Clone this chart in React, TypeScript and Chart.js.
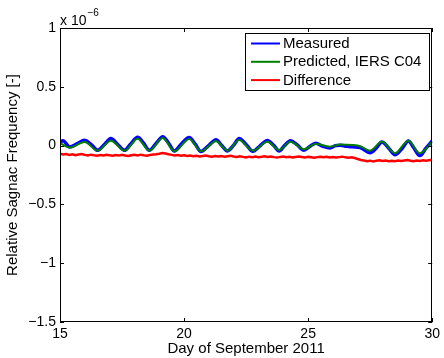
import React, { useEffect, useRef } from "react";
import { Chart, registerables } from "chart.js";

Chart.register(...registerables);

// ---- data (values in units of 1e-6) ----
const xTicks = [15, 20, 25, 30];
const yTicks = [-1.5, -1, -0.5, 0, 0.5, 1];
const seriesLabels = ["Measured", "Predicted, IERS C04", "Difference"];
const seriesColors = ["#0000ff", "#008000", "#ff0000"];

const measuredDays = [
  15.0, 15.12, 15.39, 15.7, 15.99, 16.25, 16.52, 16.8, 17.05, 17.3, 17.6, 17.85,
  18.13, 18.37, 18.6, 18.87, 19.14, 19.38, 19.61, 19.9, 20.21, 20.45, 20.68, 21.0,
  21.29, 21.5, 21.75, 22.0, 22.22, 22.5, 22.77, 23.05, 23.36, 23.6, 23.83, 24.05,
  24.29, 24.55, 24.83, 25.05, 25.3, 25.6, 25.88, 26.1, 26.3, 26.55, 26.8, 27.1,
  27.5, 27.75, 27.97, 28.25, 28.5, 28.8, 29.04, 29.25, 29.5, 29.75, 30.0,
];
const measuredValues = [
  0.03, 0.042, -0.012, 0.018, 0.046, 0.01, -0.04, 0.012, 0.06, 0.016, -0.04, 0.014,
  0.07, 0.02, -0.04, 0.018, 0.076, 0.02, -0.046, 0.016, 0.068, 0.012, -0.05, 0.002,
  0.05, 0.006, -0.045, 0.004, 0.06, 0.01, -0.048, -0.004, 0.043, 0.004, -0.045, 0.0,
  0.042, 0.008, -0.04, -0.01, 0.02, -0.006, -0.02, 0.0, 0.004, -0.006, -0.01, -0.016,
  -0.06, -0.02, 0.03, -0.022, -0.078, -0.02, 0.04, -0.016, -0.085, -0.022, 0.04,
];

const predictedDays = [
  15.0, 15.39, 15.99, 16.52, 17.05, 17.6, 18.13, 18.6, 19.14, 19.61, 20.21, 20.68,
  21.29, 21.75, 22.22, 22.77, 23.36, 23.83, 24.29, 24.83, 25.3, 25.88, 26.3, 26.8,
  27.1, 27.5, 27.97, 28.5, 29.04, 29.5, 30.0,
];
const predictedValues = [
  0.022, -0.016, 0.03, -0.043, 0.042, -0.043, 0.059, -0.043, 0.065, -0.048, 0.057, -0.048,
  0.037, -0.043, 0.048, -0.043, 0.033, -0.037, 0.033, -0.031, 0.014, -0.009, 0.009, 0.005,
  -0.005, -0.043, 0.033, -0.065, 0.042, -0.065, 0.033,
];

const differenceDays = [
  15.0, 15.125, 15.25, 15.375, 15.5, 15.625, 15.75, 15.875,
  16.0, 16.125, 16.25, 16.375, 16.5, 16.625, 16.75, 16.875,
  17.0, 17.125, 17.25, 17.375, 17.5, 17.625, 17.75, 17.875,
  18.0, 18.125, 18.25, 18.375, 18.5, 18.625, 18.75, 18.875,
  19.0, 19.125, 19.25, 19.375, 19.5, 19.625, 19.75, 19.875,
  20.0, 20.125, 20.25, 20.375, 20.5, 20.625, 20.75, 20.875,
  21.0, 21.125, 21.25, 21.375, 21.5, 21.625, 21.75, 21.875,
  22.0, 22.125, 22.25, 22.375, 22.5, 22.625, 22.75, 22.875,
  23.0, 23.125, 23.25, 23.375, 23.5, 23.625, 23.75, 23.875,
  24.0, 24.125, 24.25, 24.375, 24.5, 24.625, 24.75, 24.875,
  25.0, 25.125, 25.25, 25.375, 25.5, 25.625, 25.75, 25.875,
  26.0, 26.125, 26.25, 26.375, 26.5, 26.625, 26.75, 26.875,
  27.0, 27.125, 27.25, 27.375, 27.5, 27.625, 27.75, 27.875,
  28.0, 28.125, 28.25, 28.375, 28.5, 28.625, 28.75, 28.875,
  29.0, 29.125, 29.25, 29.375, 29.5, 29.625, 29.75, 29.875,
  30.0,
];
const differenceValues = [
  -0.07, -0.076, -0.072, -0.079, -0.074, -0.081, -0.076, -0.072,
  -0.079, -0.083, -0.077, -0.082, -0.086, -0.08, -0.084, -0.078,
  -0.083, -0.087, -0.081, -0.085, -0.079, -0.084, -0.088, -0.082,
  -0.078, -0.083, -0.077, -0.082, -0.086, -0.08, -0.076, -0.073,
  -0.069, -0.064, -0.068, -0.074, -0.079, -0.084, -0.081, -0.087,
  -0.083, -0.089, -0.085, -0.09, -0.086, -0.092, -0.088, -0.084,
  -0.09, -0.094, -0.088, -0.093, -0.089, -0.095, -0.091, -0.087,
  -0.093, -0.097, -0.091, -0.096, -0.1, -0.094, -0.098, -0.093,
  -0.099, -0.095, -0.09, -0.096, -0.092, -0.098, -0.102, -0.096,
  -0.093, -0.099, -0.095, -0.1, -0.096, -0.092, -0.097, -0.101,
  -0.096, -0.1, -0.104, -0.098, -0.094, -0.099, -0.095, -0.101,
  -0.097, -0.102, -0.098, -0.094, -0.1, -0.104, -0.099, -0.106,
  -0.114, -0.122, -0.127, -0.132, -0.128, -0.134, -0.129, -0.125,
  -0.131, -0.127, -0.133, -0.128, -0.132, -0.126, -0.131, -0.127,
  -0.123, -0.129, -0.133, -0.127, -0.131, -0.125, -0.129, -0.124,
  -0.12,
];

const FONT = '"Liberation Sans", Arial, Helvetica, sans-serif';

const toPoints = (xs: number[], ys: number[]) => xs.map((x, i) => ({ x, y: ys[i] }));
const fmt = (v: number) => (v < 0 ? "\u2212" + String(-v) : String(v));

const framePlugin = {
  id: "matlabFrame",
  afterDraw(chart: any) {
    const { ctx, chartArea: a, scales } = chart;
    const xs = scales.x;
    const ys = scales.y;
    ctx.save();
    ctx.strokeStyle = "#000";
    ctx.lineWidth = 1;
    ctx.strokeRect(Math.round(a.left) + 0.5, Math.round(a.top) + 0.5, Math.round(a.right - a.left) - 1, Math.round(a.bottom - a.top) - 1);
    const tl = 4;
    ctx.beginPath();
    xs.ticks.forEach((t: any) => {
      const px = Math.round(xs.getPixelForValue(t.value)) + 0.5;
      ctx.moveTo(px, a.bottom);
      ctx.lineTo(px, a.bottom - tl);
      ctx.moveTo(px, a.top);
      ctx.lineTo(px, a.top + tl);
    });
    ys.ticks.forEach((t: any) => {
      const py = Math.round(ys.getPixelForValue(t.value)) + 0.5;
      ctx.moveTo(a.left, py);
      ctx.lineTo(a.left + tl, py);
      ctx.moveTo(a.right, py);
      ctx.lineTo(a.right - tl, py);
    });
    ctx.stroke();

    // exponent label
    ctx.fillStyle = "#000";
    ctx.textBaseline = "alphabetic";
    ctx.textAlign = "left";
    ctx.font = `14px ${FONT}`;
    ctx.fillText("x 10", a.left, a.top - 3);
    const w = ctx.measureText("x 10").width;
    ctx.font = `10px ${FONT}`;
    ctx.fillText("\u22126", a.left + w + 1, a.top - 12);

    // legend
    const lx = 245.5, ly = 33.5, lw = 184, lh = 57;
    ctx.fillStyle = "#fff";
    ctx.fillRect(lx, ly, lw, lh);
    ctx.strokeStyle = "#000";
    ctx.lineWidth = 1;
    ctx.strokeRect(lx, ly, lw, lh);
    ctx.font = `15px ${FONT}`;
    ctx.textBaseline = "middle";
    chart.data.datasets.forEach((ds: any, i: number) => {
      const yy = 43.5 + i * 18.3;
      ctx.strokeStyle = ds.borderColor;
      ctx.lineWidth = 2;
      ctx.beginPath();
      ctx.moveTo(251, yy);
      ctx.lineTo(280, yy);
      ctx.stroke();
      ctx.fillStyle = "#000";
      ctx.fillText(ds.label, 283, yy + 0.5);
    });
    ctx.restore();
  },
};

export default function App() {
  const ref = useRef<HTMLCanvasElement | null>(null);
  useEffect(() => {
    document.body.style.margin = "0";
    const canvas = ref.current;
    if (!canvas) return;
    const chart = new Chart(canvas, {
      type: "line",
      data: {
        datasets: [
          {
            label: seriesLabels[0],
            data: toPoints(measuredDays, measuredValues),
            borderColor: seriesColors[0],
            borderWidth: 3.5,
            pointRadius: 0,
            cubicInterpolationMode: "monotone",
            order: 1,
          },
          {
            label: seriesLabels[1],
            data: toPoints(predictedDays, predictedValues),
            borderColor: seriesColors[1],
            borderWidth: 2,
            pointRadius: 0,
            cubicInterpolationMode: "monotone",
            order: 0,
          },
          {
            label: seriesLabels[2],
            data: toPoints(differenceDays, differenceValues),
            borderColor: seriesColors[2],
            borderWidth: 2.5,
            pointRadius: 0,
            tension: 0,
            order: 2,
          },
        ],
      },
      options: {
        animation: false,
        responsive: false,
        maintainAspectRatio: false,
        devicePixelRatio: 1,
        layout: { padding: { left: 0, top: 28, right: 10, bottom: 0 } },
        plugins: { legend: { display: false }, tooltip: { enabled: false } },
        scales: {
          x: {
            type: "linear",
            min: 15,
            max: 30,
            afterBuildTicks: (s: any) => {
              s.ticks = xTicks.map((v) => ({ value: v }));
            },
            afterFit: (s: any) => {
              s.height = 36;
            },
            grid: { display: false, drawTicks: false },
            border: { display: false },
            ticks: {
              color: "#000",
              padding: 4,
              maxRotation: 0,
              autoSkip: false,
              font: { family: FONT, size: 14 },
              callback: (v: any) => fmt(Number(v)),
            },
            title: {
              display: true,
              text: "Day of September 2011",
              color: "#000",
              font: { family: FONT, size: 15, lineHeight: 1.2 },
              padding: { top: 0, bottom: 0 },
            },
          },
          y: {
            type: "linear",
            min: -1.5,
            max: 1,
            afterBuildTicks: (s: any) => {
              s.ticks = yTicks.map((v) => ({ value: v }));
            },
            afterFit: (s: any) => {
              s.width = 60;
            },
            grid: { display: false, drawTicks: false },
            border: { display: false },
            ticks: {
              color: "#000",
              padding: 4,
              autoSkip: false,
              font: { family: FONT, size: 14 },
              callback: (v: any) => fmt(Number(v)),
            },
            title: {
              display: true,
              text: "Relative Sagnac Frequency [-]",
              color: "#000",
              font: { family: FONT, size: 15, lineHeight: 1.2 },
              padding: { top: 4, bottom: 0 },
            },
          },
        },
      },
      plugins: [framePlugin],
    });
    return () => chart.destroy();
  }, []);
  return (
    <div style={{ width: 444, height: 358, background: "#fff" }}>
      <canvas ref={ref} width={444} height={358} style={{ display: "block", width: 444, height: 358 }} />
    </div>
  );
}
